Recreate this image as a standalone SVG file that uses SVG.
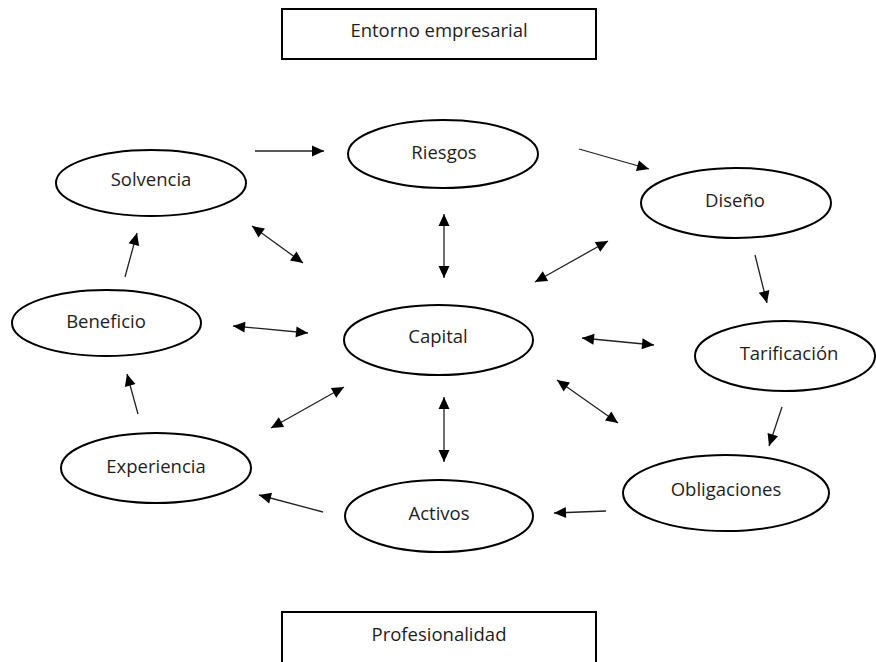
<svg xmlns="http://www.w3.org/2000/svg" width="876" height="662" viewBox="0 0 876 662">
  <style>
    .node ellipse { fill: #ffffff; stroke: #000000; stroke-width: 2; }
    .frame rect { fill: #ffffff; stroke: #000000; stroke-width: 2; }
    text { font-family: "Open Sans", "Noto Sans", sans-serif; font-size: 18.5px; fill: #1e1e1e; text-anchor: middle; }
    .links line { stroke: #222222; stroke-width: 1.3; fill: none; }
    .one { marker-end: url(#head); }
    .two { marker-start: url(#head); marker-end: url(#head); }
  </style>
  <defs>
    <marker id="head" markerUnits="userSpaceOnUse" markerWidth="14" markerHeight="12" viewBox="0 0 14 12" refX="13" refY="6" orient="auto-start-reverse">
      <path d="M1,0.5 L13,6 L1,11.5 Z" fill="#000000"/>
    </marker>
  </defs>
  <rect width="876" height="662" fill="#ffffff"/>

  <!-- framing boxes -->
  <g id="entorno" class="frame">
    <rect x="282" y="9" width="314" height="50"/>
    <text x="439" y="37">Entorno empresarial</text>
  </g>
  <g id="profesionalidad" class="frame">
    <rect x="282" y="612" width="314" height="60"/>
    <text x="439" y="641">Profesionalidad</text>
  </g>

  <!-- nodes -->
  <g id="riesgos" class="node">
    <ellipse cx="443" cy="154" rx="95" ry="34"/>
    <text x="444" y="159">Riesgos</text>
  </g>
  <g id="solvencia" class="node">
    <ellipse cx="151" cy="183" rx="95" ry="33"/>
    <text x="151" y="186">Solvencia</text>
  </g>
  <g id="diseno" class="node">
    <ellipse cx="736" cy="203" rx="95" ry="35"/>
    <text x="735" y="207">Diseño</text>
  </g>
  <g id="beneficio" class="node">
    <ellipse cx="106.5" cy="323" rx="94.5" ry="33"/>
    <text x="106" y="328">Beneficio</text>
  </g>
  <g id="capital" class="node">
    <ellipse cx="438.5" cy="340" rx="94.5" ry="35"/>
    <text x="438" y="343">Capital</text>
  </g>
  <g id="tarificacion" class="node">
    <ellipse cx="785" cy="356" rx="90" ry="35"/>
    <text x="789" y="360">Tarificación</text>
  </g>
  <g id="experiencia" class="node">
    <ellipse cx="156" cy="468" rx="95" ry="35"/>
    <text x="156" y="473">Experiencia</text>
  </g>
  <g id="obligaciones" class="node">
    <ellipse cx="726" cy="493" rx="103" ry="38"/>
    <text x="726" y="496">Obligaciones</text>
  </g>
  <g id="activos" class="node">
    <ellipse cx="439" cy="516" rx="94" ry="36"/>
    <text x="439" y="520">Activos</text>
  </g>

  <!-- connectors -->
  <g id="connectors" class="links">
    <!-- outer cycle -->
    <line class="one" x1="255" y1="151" x2="324" y2="151"/>
    <line class="one" x1="579" y1="149" x2="649" y2="169"/>
    <line class="one" x1="755" y1="255" x2="767" y2="303"/>
    <line class="one" x1="782" y1="407" x2="769" y2="446"/>
    <line class="one" x1="606" y1="511" x2="554" y2="513"/>
    <line class="one" x1="323" y1="512" x2="259" y2="495"/>
    <line class="one" x1="138" y1="414" x2="127" y2="374"/>
    <line class="one" x1="125" y1="277" x2="137" y2="233"/>
    <!-- links with the centre -->
    <line class="two" x1="252" y1="226" x2="303" y2="263"/>
    <line class="two" x1="233" y1="326" x2="308" y2="333"/>
    <line class="two" x1="444" y1="214" x2="444" y2="278"/>
    <line class="two" x1="535" y1="282" x2="608" y2="241"/>
    <line class="two" x1="582" y1="338" x2="654" y2="345"/>
    <line class="two" x1="557" y1="380" x2="618" y2="423"/>
    <line class="two" x1="444" y1="397" x2="444" y2="462"/>
    <line class="two" x1="271" y1="428" x2="344" y2="387"/>
  </g>
</svg>
